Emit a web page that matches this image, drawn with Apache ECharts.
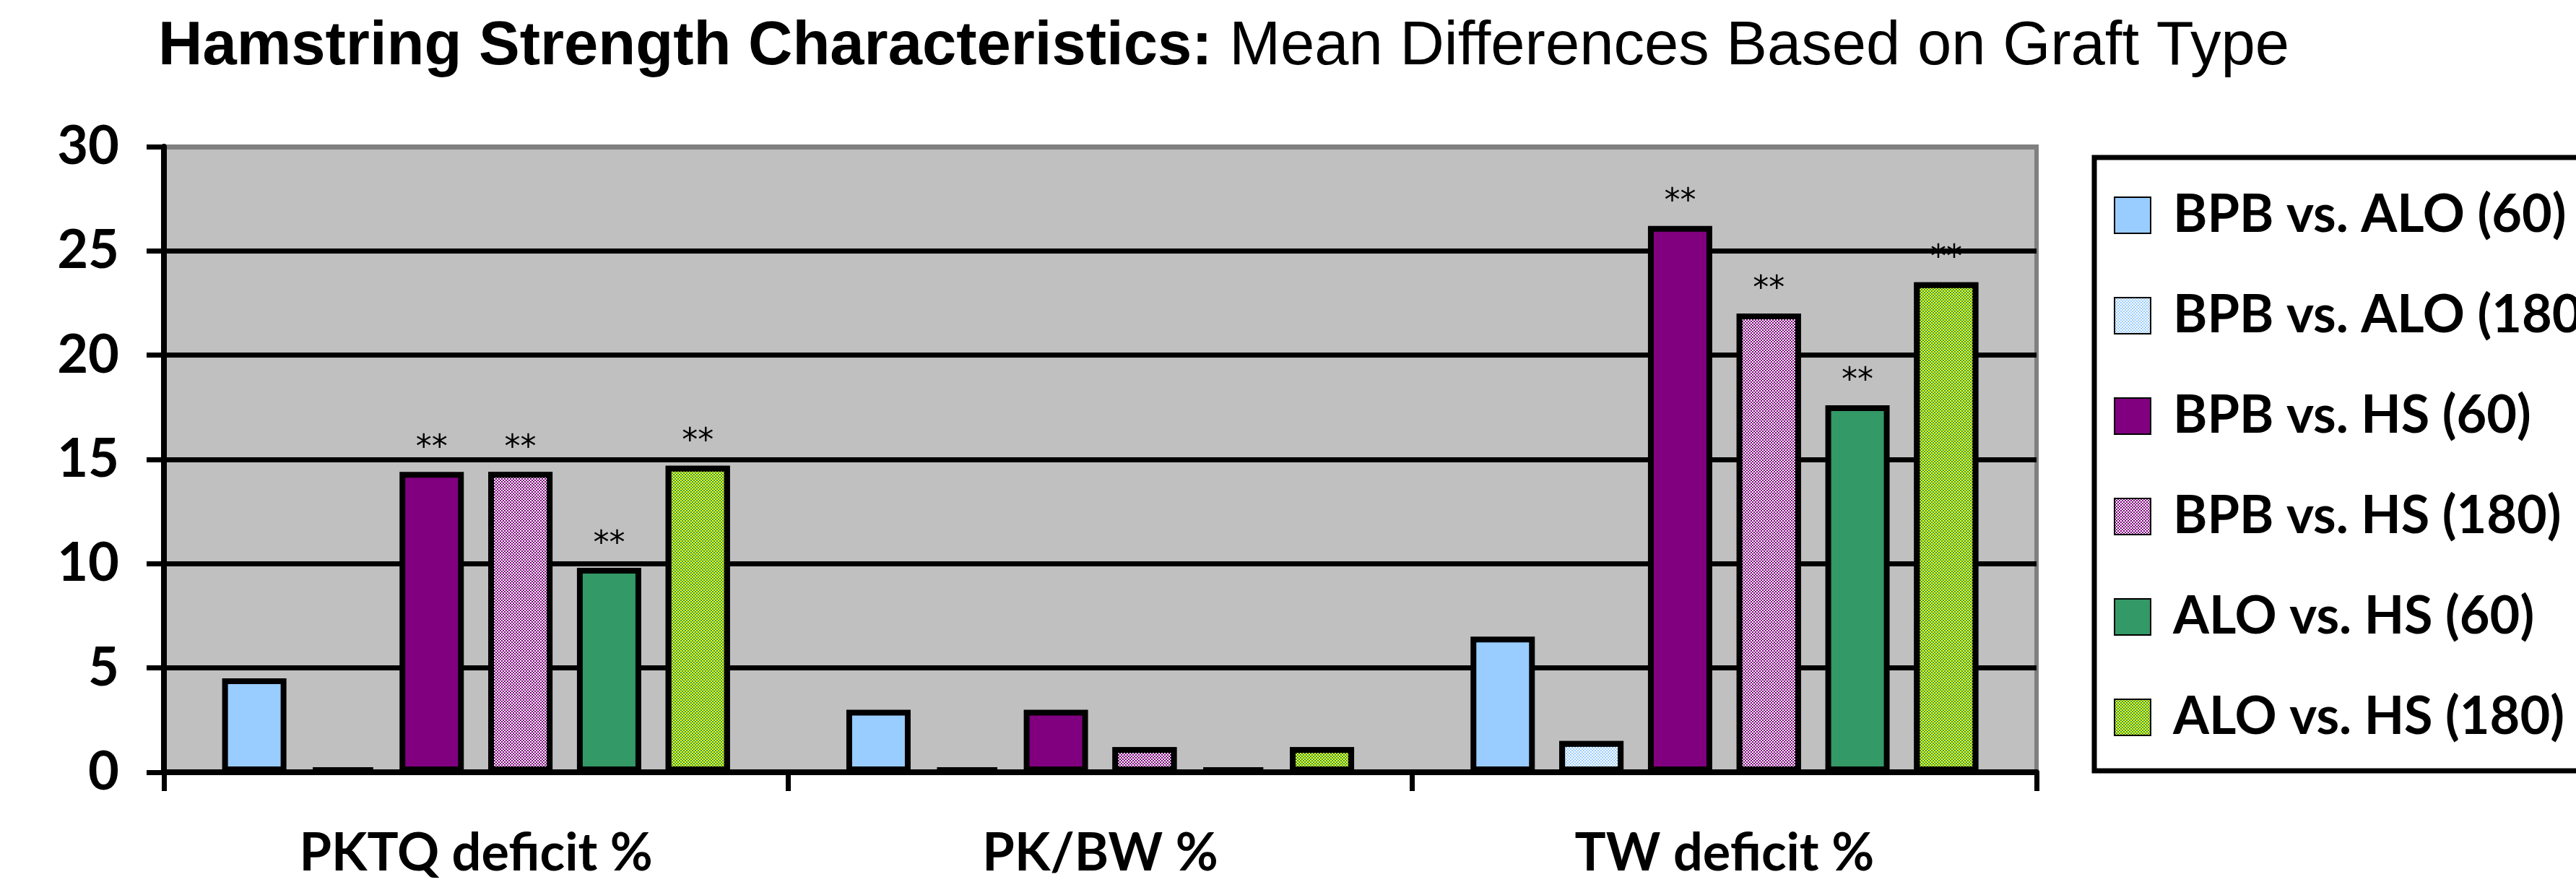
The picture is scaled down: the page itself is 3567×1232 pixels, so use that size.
<!DOCTYPE html>
<html>
<head>
<meta charset="utf-8">
<script src="https://cdn.jsdelivr.net/npm/echarts@6/dist/echarts.min.js"></script>
<style>
html,body{margin:0;padding:0;background:#fff;}
#chart{width:3567px;height:1232px;}
</style>
</head>
<body>
<div id="chart"></div>
<script>
// ---- data ----
const categories = ['PKTQ deficit %', 'PK/BW %', 'TW deficit %'];
const seriesNames = ['BPB vs. ALO (60)', 'BPB vs. ALO (180)', 'BPB vs. HS (60)', 'BPB vs. HS (180)', 'ALO vs. HS (60)', 'ALO vs. HS (180)'];
const bpbAlo60  = [4.5, 3.0, 6.5];
const bpbAlo180 = [0.2, 0.2, 1.5];
const bpbHs60   = [14.4, 3.0, 26.2];
const bpbHs180  = [14.4, 1.2, 22.0];
const aloHs60   = [9.8, 0.2, 17.6];
const aloHs180  = [14.7, 1.2, 23.5];
// significance markers (**)
const bpbAlo60Sig  = [false, false, false];
const bpbAlo180Sig = [false, false, false];
const bpbHs60Sig   = [true, false, true];
const bpbHs180Sig  = [true, false, true];
const aloHs60Sig   = [true, false, true];
const aloHs180Sig  = [true, false, true];
const sigMark = '**';
const yMin = 0, yMax = 30, yStep = 5;
const titleBold = 'Hamstring Strength Characteristics:';
const titleRest = ' Mean Differences Based on Graft Type';

// ---- styles ----
function checker(color) {
  return { symbol: 'rect', symbolSize: 1, color: color, dashArrayX: [[2, 2], [0, 2, 2, 0]], dashArrayY: [2, 0] };
}
const styles = [
  { color: '#99CCFF' },
  { color: '#FFFFFF', decal: checker('#99CCFF') },
  { color: '#800080' },
  { color: '#800080', decal: checker('#FFFFFF') },
  { color: '#339966' },
  { color: '#339966', decal: checker('#FFFF00') }
];
const values = [bpbAlo60, bpbAlo180, bpbHs60, bpbHs180, aloHs60, aloHs180];
const sigs = [bpbAlo60Sig, bpbAlo180Sig, bpbHs60Sig, bpbHs180Sig, aloHs60Sig, aloHs180Sig];

const calibri = 'Lato, "Open Sans", sans-serif';

const series = seriesNames.map((name, s) => ({
  name: name,
  type: 'bar',
  barWidth: 89,
  barGap: '38%',
  itemStyle: Object.assign({ borderColor: '#000', borderWidth: 8 }, styles[s]),
  label: {
    show: false,
    position: 'top',
    distance: 10,
    formatter: sigMark,
    color: '#000',
    fontFamily: '"DejaVu Sans", sans-serif',
    fontSize: 44
  },
  emphasis: { disabled: true },
  data: values[s].map((v, i) => sigs[s][i] ? { value: v, label: { show: true } } : v)
}));

const chart = echarts.init(document.getElementById('chart'), null, { renderer: 'canvas' });
chart.setOption({
  backgroundColor: '#FFFFFF',
  animation: false,
  title: {
    text: '{b|' + titleBold + '}{n|' + titleRest + '}',
    left: 214,
    top: 18,
    textStyle: {
      rich: {
        b: { fontFamily: '"Liberation Sans", Arial, sans-serif', fontWeight: 'bold', fontSize: 85, color: '#000' },
        n: { fontFamily: '"Liberation Sans", Arial, sans-serif', fontWeight: 'normal', fontSize: 85, color: '#000' }
      }
    }
  },
  legend: {
    orient: 'vertical',
    left: 2900,
    top: 218,
    padding: [44, 40, 38, 27],
    borderColor: '#000',
    borderWidth: 7,
    backgroundColor: '#FFFFFF',
    itemWidth: 50,
    itemHeight: 50,
    itemGap: 67,
    icon: 'rect',
    selectedMode: false,
    textStyle: {
      fontFamily: calibri,
      fontWeight: 'bold',
      fontSize: 72,
      color: '#000',
      padding: [0, 0, 0, 26]
    },
    data: seriesNames
  },
  grid: {
    left: 227,
    right: 747,
    top: 203,
    bottom: 163,
    show: true,
    backgroundColor: '#C0C0C0',
    borderColor: '#808080',
    borderWidth: 6
  },
  xAxis: {
    type: 'category',
    data: categories,
    axisLine: { lineStyle: { color: '#000', width: 8 } },
    axisTick: { show: true, length: 26, lineStyle: { color: '#000', width: 7 } },
    axisLabel: { margin: 77, fontFamily: calibri, fontWeight: 'bold', fontSize: 72, color: '#000' },
    splitLine: { show: false }
  },
  yAxis: {
    type: 'value',
    min: yMin,
    max: yMax,
    interval: yStep,
    axisLine: { show: true, lineStyle: { color: '#000', width: 8 } },
    axisTick: { show: true, length: 24, lineStyle: { color: '#000', width: 7 } },
    axisLabel: { margin: 62, fontFamily: calibri, fontWeight: 'bold', fontSize: 74, color: '#000' },
    splitLine: { show: true, lineStyle: { color: ['#000', '#000', '#000', '#000', '#000', '#000', '#808080'], width: 7 } }
  },
  series: series
});
</script>
</body>
</html>
